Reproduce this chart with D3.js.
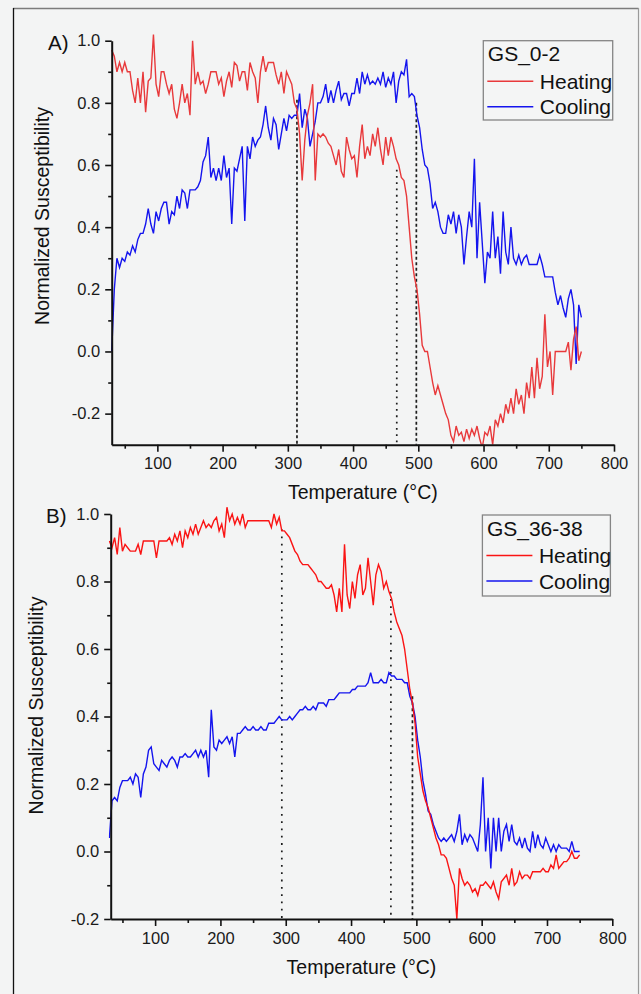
<!DOCTYPE html>
<html lang="en">
<head>
<meta charset="UTF-8">
<title>Normalized susceptibility vs temperature</title>
<script src="https://cdn.jsdelivr.net/npm/d3@7"></script>
<style>
    body { margin: 0; background: #f3f4f4; }
    svg { display: block; font-family: "Liberation Sans", Arial, sans-serif; }
    .axis path, .axis line { stroke: #111; }
</style>
</head>
<body>
<svg id="chart" width="641" height="994"></svg>
<script>
// temperature steps (°C), shared by all four curves
const temps = [
    30,34,38,42,46,50,54,58,62,66,
    70,74,78,82,86,90,94,98,102,106,
    110,114,118,122,126,130,134,138,142,146,
    150,154,158,162,166,170,174,178,182,186,
    190,194,198,202,206,210,214,218,222,226,
    230,234,238,242,246,250,254,258,262,266,
    270,274,278,282,286,290,294,298,302,306,
    310,314,318,322,326,330,334,338,342,346,
    350,354,358,362,366,370,374,378,382,386,
    390,394,398,402,406,410,414,418,422,426,
    430,434,438,442,446,450,454,458,462,466,
    470,474,478,482,486,490,494,498,502,506,
    510,514,518,522,526,530,534,538,542,546,
    550,554,558,562,566,570,574,578,582,586,
    590,594,598,602,606,610,614,618,622,626,
    630,634,638,642,646,650,654,658,662,666,
    670,674,678,682,686,690,694,698,702,706,
    710,714,718,722,726,730,734,738,742,746,
    750
];

// A) GS_0-2
const heatA = [
    0.97,0.95,0.90,0.93,0.90,0.93,0.90,0.90,0.84,0.80,
    0.88,0.80,0.90,0.77,0.87,0.88,1.02,0.86,0.82,0.90,
    0.90,0.86,0.83,0.86,0.78,0.75,0.80,0.86,0.80,0.83,
    0.76,1.00,0.86,0.90,0.86,0.87,0.83,0.86,0.90,0.90,
    0.90,0.86,0.88,0.82,0.87,0.90,0.85,0.93,0.92,0.87,
    0.90,0.90,0.84,0.93,0.90,0.88,0.80,0.90,0.95,0.90,
    0.93,0.93,0.93,0.89,0.86,0.90,0.83,0.90,0.88,0.86,
    0.80,0.78,0.70,0.55,0.68,0.76,0.80,0.86,0.55,0.70,
    0.69,0.70,0.69,0.67,0.66,0.63,0.60,0.65,0.58,0.56,
    0.69,0.65,0.62,0.63,0.56,0.66,0.73,0.62,0.66,0.63,
    0.70,0.66,0.72,0.65,0.60,0.69,0.63,0.69,0.66,0.62,
    0.60,0.56,0.55,0.50,0.40,0.30,0.24,0.20,0.12,0.02,
    0.00,0.00,-0.05,-0.10,-0.14,-0.11,-0.14,-0.17,-0.20,-0.22,
    -0.27,-0.29,-0.24,-0.27,-0.26,-0.29,-0.25,-0.28,-0.25,-0.27,
    -0.24,-0.28,-0.31,-0.26,-0.27,-0.24,-0.30,-0.22,-0.24,-0.20,
    -0.23,-0.17,-0.20,-0.15,-0.20,-0.12,-0.17,-0.14,-0.20,-0.10,
    -0.15,-0.05,-0.15,-0.02,-0.12,-0.08,0.12,-0.05,0.00,-0.14,
    0.00,0.00,0.00,0.00,0.00,0.03,-0.06,0.04,0.08,-0.03,
    0.00
];
const coolA = [
    0.00,0.20,0.30,0.27,0.30,0.29,0.32,0.31,0.34,0.32,
    0.36,0.38,0.38,0.41,0.46,0.41,0.38,0.45,0.42,0.46,
    0.48,0.48,0.41,0.45,0.44,0.50,0.46,0.52,0.51,0.46,
    0.52,0.52,0.52,0.53,0.55,0.61,0.63,0.69,0.56,0.59,
    0.55,0.59,0.55,0.63,0.56,0.59,0.41,0.59,0.58,0.62,
    0.66,0.42,0.66,0.62,0.69,0.66,0.68,0.69,0.73,0.79,
    0.72,0.68,0.75,0.73,0.65,0.70,0.75,0.71,0.76,0.75,
    0.76,0.76,0.83,0.72,0.78,0.75,0.66,0.70,0.74,0.80,
    0.80,0.82,0.86,0.80,0.84,0.80,0.84,0.87,0.81,0.83,
    0.83,0.79,0.83,0.83,0.88,0.83,0.90,0.86,0.89,0.86,
    0.87,0.86,0.88,0.86,0.90,0.85,0.88,0.86,0.90,0.80,
    0.87,0.90,0.89,0.94,0.82,0.83,0.82,0.76,0.72,0.65,
    0.60,0.59,0.54,0.46,0.48,0.45,0.40,0.38,0.38,0.44,
    0.41,0.45,0.38,0.44,0.40,0.28,0.37,0.45,0.40,0.62,
    0.30,0.48,0.35,0.22,0.32,0.30,0.45,0.30,0.37,0.25,
    0.45,0.32,0.28,0.40,0.30,0.28,0.31,0.28,0.30,0.31,
    0.28,0.28,0.28,0.28,0.31,0.28,0.24,0.24,0.24,0.24,
    0.19,0.15,0.18,0.14,0.11,0.17,0.20,0.15,-0.04,0.15,
    0.11
];

// B) GS_36-38
const heatB = [
    0.92,0.90,0.93,0.88,0.96,0.89,0.91,0.90,0.89,0.89,
    0.89,0.91,0.88,0.92,0.92,0.92,0.92,0.92,0.87,0.92,
    0.92,0.92,0.92,0.93,0.91,0.94,0.92,0.95,0.90,0.95,
    0.93,0.96,0.94,0.97,0.94,0.96,0.98,0.96,0.97,0.96,
    0.98,0.99,0.95,0.97,0.93,1.02,0.98,1.00,0.97,0.99,
    0.97,1.00,0.96,0.98,0.98,0.98,0.98,0.98,0.98,0.98,
    0.98,0.98,0.96,1.00,0.97,0.99,0.95,0.95,0.94,0.93,
    0.91,0.89,0.88,0.86,0.85,0.85,0.85,0.84,0.83,0.82,
    0.80,0.80,0.79,0.78,0.78,0.79,0.76,0.71,0.78,0.71,
    0.91,0.76,0.72,0.80,0.75,0.82,0.85,0.76,0.78,0.87,
    0.80,0.73,0.82,0.85,0.83,0.78,0.80,0.77,0.75,0.71,
    0.68,0.66,0.64,0.60,0.54,0.48,0.44,0.38,0.28,0.23,
    0.18,0.15,0.13,0.10,0.07,0.04,0.02,-0.01,-0.01,-0.02,
    -0.05,-0.08,-0.10,-0.20,-0.05,-0.08,-0.10,-0.09,-0.10,-0.12,
    -0.11,-0.13,-0.10,-0.10,-0.09,-0.10,-0.11,-0.09,-0.12,-0.14,
    -0.09,-0.08,-0.07,-0.10,-0.05,-0.10,-0.09,-0.06,-0.08,-0.07,
    -0.07,-0.08,-0.06,-0.06,-0.06,-0.06,-0.05,-0.06,-0.06,-0.04,
    -0.05,-0.01,-0.05,-0.04,-0.03,-0.03,-0.02,0.00,-0.02,-0.02,
    -0.01
];
const coolB = [
    0.04,0.15,0.16,0.15,0.19,0.21,0.21,0.21,0.22,0.20,
    0.23,0.22,0.16,0.23,0.25,0.30,0.31,0.26,0.25,0.24,
    0.27,0.26,0.25,0.27,0.28,0.27,0.25,0.28,0.28,0.29,
    0.28,0.28,0.29,0.30,0.28,0.30,0.28,0.30,0.22,0.42,
    0.31,0.30,0.33,0.32,0.33,0.34,0.32,0.34,0.28,0.35,
    0.35,0.36,0.37,0.36,0.36,0.37,0.36,0.36,0.37,0.36,
    0.36,0.38,0.38,0.38,0.39,0.40,0.39,0.39,0.39,0.40,
    0.39,0.40,0.41,0.42,0.42,0.43,0.42,0.42,0.43,0.42,
    0.44,0.44,0.44,0.43,0.45,0.45,0.45,0.46,0.47,0.47,
    0.47,0.47,0.47,0.48,0.48,0.49,0.49,0.49,0.49,0.50,
    0.53,0.50,0.50,0.50,0.51,0.50,0.50,0.53,0.52,0.52,
    0.51,0.51,0.51,0.50,0.50,0.46,0.44,0.40,0.33,0.28,
    0.21,0.17,0.12,0.11,0.08,0.06,0.04,0.03,0.04,0.03,
    0.04,0.05,0.03,0.06,0.11,0.02,0.05,0.03,0.05,0.04,
    0.02,0.00,0.08,0.22,0.00,0.10,-0.05,0.10,0.00,0.10,
    0.00,0.06,0.08,0.03,0.08,0.03,0.02,0.04,0.01,0.04,
    0.01,0.00,0.06,0.01,0.05,0.02,0.01,0.04,0.02,0.00,
    0.02,0.00,0.02,0.01,0.01,0.01,0.00,0.03,0.00,0.00,
    0.00
];

// transition temperatures marked with dotted lines, and where each line starts
const marksA = [314, 467, 497];
const markTopsA = [0.81, 0.585, 0.80];
const marksB = [294, 461, 494];
const markTopsB = [0.955, 0.77, 0.46];

const xTicks = [100, 200, 300, 400, 500, 600, 700, 800];
const xMinor = [50, 150, 250, 350, 450, 550, 650, 750];
const yTicksA = [-0.2, 0.0, 0.2, 0.4, 0.6, 0.8, 1.0];
const yMinorA = [-0.1, 0.1, 0.3, 0.5, 0.7, 0.9];
const yTicksB = [-0.2, 0.0, 0.2, 0.4, 0.6, 0.8, 1.0];
const yMinorB = [-0.1, 0.1, 0.3, 0.5, 0.7, 0.9];

const FONT = '"Liberation Sans", Arial, sans-serif';
const svg = d3.select("#chart");

svg.append("rect").attr("width", 641).attr("height", 994).attr("fill", "#f3f4f4");
// figure frame
svg.append("line").attr("x1", 13).attr("x2", 638.5).attr("y1", 8.5).attr("y2", 8.5)
    .attr("stroke", "#7c7c7c").attr("stroke-width", 1.3);
svg.append("line").attr("x1", 13.5).attr("x2", 13.5).attr("y1", 8).attr("y2", 994)
    .attr("stroke", "#111").attr("stroke-width", 1.3);
svg.append("line").attr("x1", 638.5).attr("x2", 638.5).attr("y1", 8).attr("y2", 994)
    .attr("stroke", "#9a9a9a").attr("stroke-width", 1.2);

const panels = [
    {id: "A", label: "A)", name: "GS_0-2", heat: heatA, cool: coolA,
     marks: marksA, tops: markTopsA, dashes: ["3,2.5", "1.8,4.5", "3,2.5"],
     yTicks: yTicksA, yMinor: yMinorA, yMin: -0.3, xMin: 30,
     left: 111.7, right: 614, top: 40.7, bottom: 444.7,
     heatColor: "#e8393b", labelPos: [48, 49.5], yTitle: [49, 216], xTitle: 499,
     legend: [483.3, 40.7, 129.4, 79.3]},
    {id: "B", label: "B)", name: "GS_36-38", heat: heatB, cool: coolB,
     marks: marksB, tops: markTopsB, dashes: ["1.8,5.5", "1.8,5.5", "3,3"],
     yTicks: yTicksB, yMinor: yMinorB, yMin: -0.2, xMin: 32,
     left: 110.7, right: 612.3, top: 514, bottom: 919,
     heatColor: "#fa1414", labelPos: [46, 522.5], yTitle: [43, 705.5], xTitle: 974,
     legend: [482.4, 515, 128, 81]}
];
const coolColor = "#1414ee";

// d3 axes put their own font on the group, so set ours on the labels
function styleTicks(sel) {
    sel.selectAll(".tick text")
        .attr("font-family", FONT)
        .attr("font-size", 16.5)
        .attr("fill", "#1a1a1a");
}

panels.forEach(p => {
    const x = d3.scaleLinear().domain([p.xMin, 800]).range([p.left, p.right]);
    const y = d3.scaleLinear().domain([p.yMin, 1.0]).range([p.bottom, p.top]);
    const g = svg.append("g");

    svg.append("clipPath").attr("id", "clip" + p.id)
        .append("rect")
        .attr("x", p.left - 2).attr("y", p.top - 30)
        .attr("width", p.right - p.left + 10).attr("height", p.bottom - p.top + 30);

    // dotted transition lines
    g.selectAll("line.mark")
        .data(p.marks)
        .enter()
        .append("line")
        .attr("class", "mark")
        .attr("x1", d => x(d)).attr("x2", d => x(d))
        .attr("y1", (d, i) => y(p.tops[i])).attr("y2", y(p.yMin))
        .attr("stroke", "#1c1c1c")
        .attr("stroke-width", 1.7)
        .attr("stroke-dasharray", (d, i) => p.dashes[i]);

    const line = d3.line()
        .x((d, i) => x(temps[i]))
        .y(d => y(d));

    const curves = g.append("g").attr("clip-path", "url(#clip" + p.id + ")");
    curves.append("path")
        .attr("d", line(p.cool))
        .attr("fill", "none").attr("stroke", coolColor).attr("stroke-width", 1.4);
    curves.append("path")
        .attr("d", line(p.heat))
        .attr("fill", "none").attr("stroke", p.heatColor).attr("stroke-width", 1.4);

    // axes
    const xAxis = g.append("g").attr("class", "axis")
        .attr("transform", "translate(0," + p.bottom + ")")
        .call(d3.axisBottom(x).tickValues(xTicks).tickSize(7).tickSizeOuter(0)
            .tickPadding(6).tickFormat(d3.format("d")));
    g.append("g").attr("class", "axis")
        .attr("transform", "translate(0," + p.bottom + ")")
        .call(d3.axisBottom(x).tickValues(xMinor).tickSize(4).tickSizeOuter(0).tickFormat(""))
        .select(".domain").remove();
    xAxis.select(".domain").attr("stroke-width", 2);
    styleTicks(xAxis);

    const yAxis = g.append("g").attr("class", "axis")
        .attr("transform", "translate(" + p.left + ",0)")
        .call(d3.axisLeft(y).tickValues(p.yTicks).tickSize(6.5).tickSizeOuter(0)
            .tickPadding(5).tickFormat(d => d.toFixed(1)));
    g.append("g").attr("class", "axis")
        .attr("transform", "translate(" + p.left + ",0)")
        .call(d3.axisLeft(y).tickValues(p.yMinor).tickSize(3.5).tickSizeOuter(0).tickFormat(""))
        .select(".domain").remove();
    yAxis.select(".domain").attr("stroke-width", 2);
    styleTicks(yAxis);
    g.selectAll(".axis .tick line").attr("stroke-width", 1.6);

    // titles
    g.append("text")
        .attr("x", p.labelPos[0]).attr("y", p.labelPos[1])
        .attr("font-size", 20.5).attr("fill", "#111")
        .text(p.label);
    g.append("text")
        .attr("x", (p.left + p.right) / 2).attr("y", p.xTitle)
        .attr("text-anchor", "middle").attr("font-size", 19.5).attr("fill", "#111")
        .text("Temperature (°C)");
    g.append("text")
        .attr("transform", "translate(" + p.yTitle[0] + "," + p.yTitle[1] + ") rotate(-90)")
        .attr("text-anchor", "middle").attr("font-size", 19.5).attr("fill", "#111")
        .text("Normalized Susceptibility");

    // legend
    const [lx, ly, lw, lh] = p.legend;
    const lg = g.append("g");
    lg.append("rect")
        .attr("x", lx).attr("y", ly).attr("width", lw).attr("height", lh)
        .attr("fill", "#f4f5f5").attr("stroke", "#858585").attr("stroke-width", 1.3);
    lg.append("text")
        .attr("x", lx + 4.5).attr("y", ly + 20.5)
        .attr("font-size", 21).attr("fill", "#111")
        .text(p.name);
    const items = [
        {name: "Heating", color: p.heatColor, dy: 40.5},
        {name: "Cooling", color: coolColor, dy: 66}
    ];
    items.forEach(it => {
        lg.append("line")
            .attr("x1", lx + 4).attr("x2", lx + 50)
            .attr("y1", ly + it.dy).attr("y2", ly + it.dy)
            .attr("stroke", it.color).attr("stroke-width", 1.6);
        lg.append("text")
            .attr("x", lx + 56.5).attr("y", ly + it.dy + 7.5)
            .attr("font-size", 21).attr("fill", "#111")
            .text(it.name);
    });
});
</script>
</body>
</html>
